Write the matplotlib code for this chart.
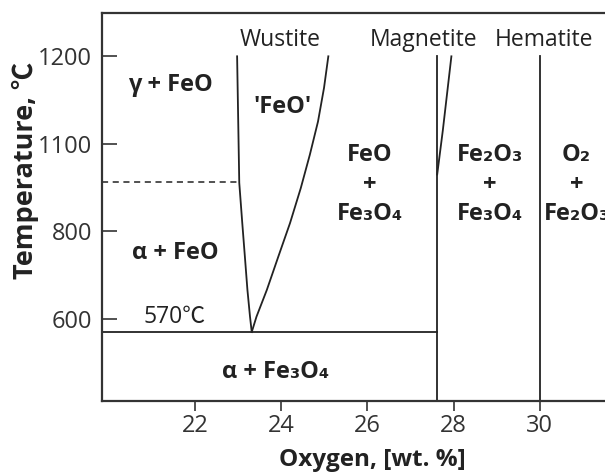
import numpy as np
import matplotlib
matplotlib.use("Agg")
import matplotlib.pyplot as plt

plt.rcParams['font.family'] = ['Open Sans', 'Noto Sans CJK KR', 'DejaVu Sans']

# Fe-O phase boundaries (wt.% O, temperature in C)
wustite_left_o = [22.97, 23.02, 23.09, 23.15, 23.21, 23.27, 23.31]
wustite_left_t = [1200, 911, 819, 743, 666, 605, 570]
wustite_right_o = [23.31, 23.42, 23.66, 23.93, 24.20, 24.45, 24.66, 24.85, 24.99, 25.09]
wustite_right_t = [570, 605, 666, 743, 819, 899, 975, 1051, 1128, 1200]
magnetite_o = 27.61
magnetite_edge_o = [27.62, 27.75, 27.95]
magnetite_edge_t = [930, 1030, 1200]
hematite_o = 30.01
eutectoid_t = 570
alpha_gamma_t = 912
top_t = 1200

# axis ticks (label for the third tick reads 1100 in the original figure)
x_ticks = [22, 24, 26, 28, 30]
y_ticks = [600, 800, 1000, 1200]
y_tick_labels = ['600', '800', '1100', '1200']

ink = '#222222'

fig = plt.figure(figsize=(6.05, 4.74), dpi=100)
ax = fig.add_axes([102 / 605, 73 / 474, 1 - 102 / 605, 388 / 474])
ax.set_xlim(19.83, 31.52)
ax.set_ylim(412.4, 1299)

for side in ['left', 'top', 'bottom']:
    ax.spines[side].set_linewidth(1.6)
    ax.spines[side].set_color('#333333')
ax.spines['right'].set_visible(False)

ax.set_xticks(x_ticks)
ax.set_yticks(y_ticks)
ax.set_yticklabels(y_tick_labels)
ax.tick_params(axis='y', direction='in', length=11, width=1.2, pad=7,
               labelsize=17, colors='#333333')
ax.tick_params(axis='x', direction='out', length=7, width=1.2, pad=2,
               labelsize=17, colors='#333333')

lw = 1.3
ax.plot(wustite_left_o, wustite_left_t, color=ink, lw=lw)
ax.plot(wustite_right_o, wustite_right_t, color=ink, lw=lw)
ax.plot([magnetite_o, magnetite_o], [412.4, top_t], color=ink, lw=lw)
ax.plot(magnetite_edge_o, magnetite_edge_t, color=ink, lw=lw)
ax.plot([hematite_o, hematite_o], [412.4, top_t], color=ink, lw=lw)
ax.plot([19.83, magnetite_o], [eutectoid_t, eutectoid_t], color=ink, lw=lw)
ax.plot([19.83, wustite_left_o[1]], [alpha_gamma_t, alpha_gamma_t],
        color=ink, lw=1.1, ls=(0, (4, 3)))

# phase names along the top
for txt, xo in [('Wustite', 23.97), ('Magnetite', 27.31), ('Hematite', 30.1)]:
    ax.text(xo, 1238, txt, ha='center', va='center', fontsize=16.5, color=ink)

# phase field labels
bold = dict(ha='center', va='center', fontsize=17, fontweight='bold', color=ink)
ax.text(21.41, 1135, 'γ + FeO', **bold)
ax.text(24.02, 1085, "'FeO'", **bold)
ax.text(21.53, 751, 'α + FeO', **bold)
ax.text(23.87, 479, 'α + Fe₃O₄', **bold)
ax.text(26.06, 907, 'FeO\n+\nFe₃O₄', linespacing=1.3, **bold)
ax.text(28.85, 907, 'Fe₂O₃\n+\nFe₃O₄', linespacing=1.3, **bold)
ax.text(30.86, 907, 'O₂\n+\nFe₂O₃', linespacing=1.3, **bold)
ax.text(21.51, 605, '570℃', ha='center', va='center', fontsize=16.5, color=ink)

fig.text(25 / 605, 1 - 170 / 474, 'Temperature, ℃', rotation=90,
         ha='center', va='center', fontsize=19.5, fontweight='bold', color=ink)
fig.text(372 / 605, 1 - 460 / 474, 'Oxygen, [wt. %]',
         ha='center', va='center', fontsize=17.5, fontweight='bold', color=ink)

fig.savefig('out.png', dpi=100)
